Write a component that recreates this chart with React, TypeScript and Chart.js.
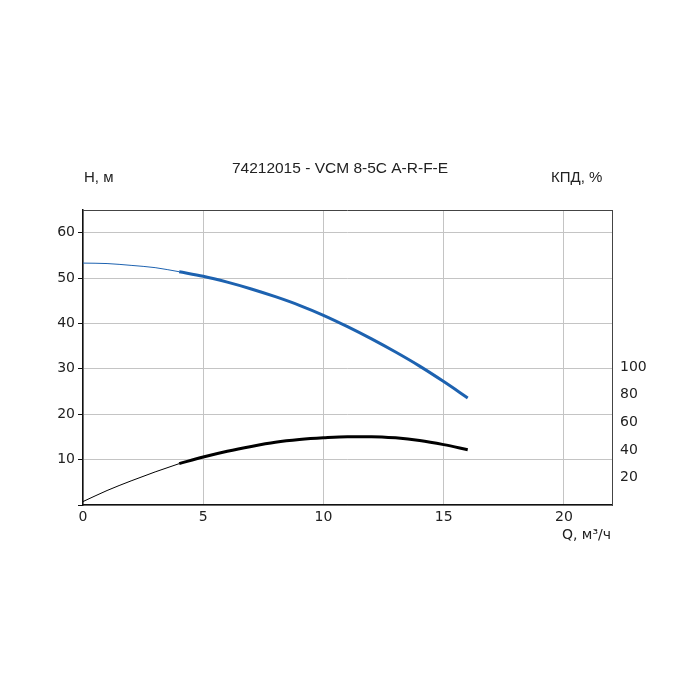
import React, { useEffect, useRef } from "react";
import { Chart, registerables } from "chart.js";

Chart.register(...registerables);

const chartTitle = "74212015 - VCM 8-5C A-R-F-E";
const leftAxisLabel = "Н, м";
const rightAxisLabel = "КПД, %";
const bottomAxisLabel = "Q, м³/ч";

const qThin = [0, 1, 2, 3, 4];
const headThin = [53.3, 53.2, 52.8, 52.3, 51.4];
const effThin = [2.5, 10.5, 17.5, 24, 30];

const qMain = [4, 5, 6, 7, 8, 9, 10, 11, 12, 13, 14, 15, 16];
const headMain = [51.4, 50.4, 49.1, 47.6, 45.9, 44.0, 41.8, 39.3, 36.6, 33.7, 30.6, 27.2, 23.6];
const effMain = [30, 34.8, 39, 42.5, 45.5, 47.5, 48.8, 49.6, 49.6, 48.7, 46.8, 43.8, 40.1];

const rightTicks = [20, 40, 60, 80, 100];

const pts = (xs: number[], ys: number[]) => xs.map((x, i) => ({ x, y: ys[i] }));

const BLUE = "#1d62b0";

const textPlugin = {
  id: "extraText",
  afterDraw(chart: any) {
    const ctx = chart.ctx;
    const a = chart.chartArea;
    ctx.save();
    ctx.strokeStyle = "#444";
    ctx.lineWidth = 1;
    ctx.beginPath();
    ctx.moveTo(a.left, a.top + 0.5);
    ctx.lineTo(a.right, a.top + 0.5);
    ctx.stroke();
    ctx.fillStyle = "#222";
    ctx.font = "15.5px 'Liberation Sans', Arial, sans-serif";
    ctx.textBaseline = "middle";
    ctx.textAlign = "center";
    ctx.fillText(chartTitle, 340, 169);
    ctx.font = "15px 'Liberation Sans', Arial, sans-serif";
    ctx.textAlign = "left";
    ctx.fillText(leftAxisLabel, 84, 178);
    ctx.fillText(rightAxisLabel, 551, 178);
    ctx.font = "14px 'DejaVu Sans', sans-serif";
    ctx.textAlign = "right";
    ctx.fillText(bottomAxisLabel, 611, 535);
    ctx.restore();
  },
};

export default function App() {
  const ref = useRef<HTMLCanvasElement>(null);
  useEffect(() => {
    if (!ref.current) return;
    const chart = new Chart(ref.current, {
      type: "scatter",
      data: {
        datasets: [
          { data: pts(qThin, headThin), borderColor: BLUE, borderWidth: 1, showLine: true, pointRadius: 0, cubicInterpolationMode: "monotone", yAxisID: "y" },
          { data: pts(qMain, headMain), borderColor: BLUE, borderWidth: 3, showLine: true, pointRadius: 0, cubicInterpolationMode: "monotone", yAxisID: "y" },
          { data: pts(qThin, effThin), borderColor: "#000", borderWidth: 1, showLine: true, pointRadius: 0, cubicInterpolationMode: "monotone", yAxisID: "y1" },
          { data: pts(qMain, effMain), borderColor: "#000", borderWidth: 3, showLine: true, pointRadius: 0, cubicInterpolationMode: "monotone", yAxisID: "y1" },
        ],
      } as any,
      options: {
        animation: false,
        responsive: false,
        layout: { padding: { left: 0, right: 0, top: 210, bottom: 165 } },
        plugins: { legend: { display: false }, tooltip: { enabled: false }, title: { display: false } },
        scales: {
          x: {
            type: "linear",
            min: 0,
            max: 22,
            ticks: {
              stepSize: 5,
              includeBounds: false,
              color: "#222",
              font: { family: "'DejaVu Sans', sans-serif", size: 14 },
              padding: 4,
              maxRotation: 0,
            },
            grid: { color: "#c4c4c4", lineWidth: 1, drawTicks: false },
            border: { color: "#111", width: 1.5 },
            afterFit(s: any) { s.height = 30; },
          },
          y: {
            type: "linear",
            position: "left",
            min: 0,
            max: 65,
            ticks: {
              stepSize: 10,
              includeBounds: false,
              color: "#222",
              font: { family: "'DejaVu Sans', sans-serif", size: 14 },
              padding: 3,
              callback: (v: any) => (v === 0 ? "" : String(v)),
            },
            grid: { color: "#c4c4c4", lineWidth: 1, drawTicks: true, tickLength: 5, tickColor: "#111" },
            border: { color: "#111", width: 1.5 },
            afterFit(s: any) { s.width = 83; },
          },
          y1: {
            type: "linear",
            position: "right",
            min: 0,
            max: 214,
            afterBuildTicks(s: any) { s.ticks = rightTicks.map((v) => ({ value: v })); },
            ticks: {
              color: "#222",
              font: { family: "'DejaVu Sans', sans-serif", size: 14 },
              padding: 8,
            },
            grid: { display: false, drawTicks: false },
            border: { color: "#444", width: 1 },
            afterFit(s: any) { s.width = 88; },
          },
        },
      } as any,
      plugins: [textPlugin],
    });
    return () => chart.destroy();
  }, []);
  return (
    <div style={{ position: "fixed", left: 0, top: 0, width: 700, height: 700, background: "#fff" }}>
      <canvas ref={ref} width={700} height={700} style={{ display: "block" }} />
    </div>
  );
}
